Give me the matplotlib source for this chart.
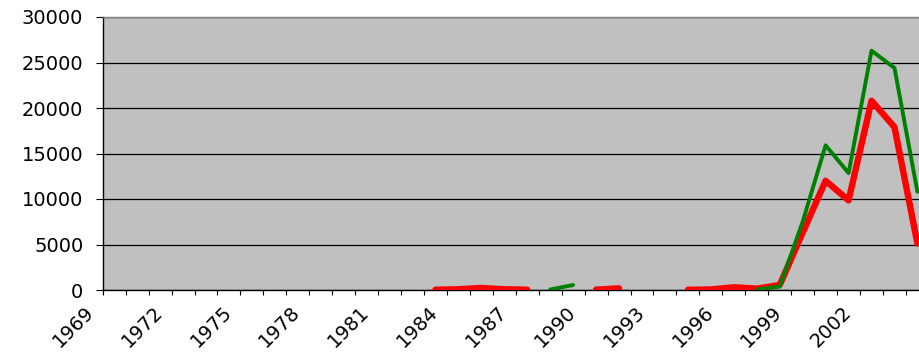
import numpy as np
import matplotlib
matplotlib.use("Agg")
import matplotlib.pyplot as plt
from matplotlib.transforms import ScaledTranslation

# Years on the category axis
years = list(range(1969, 2005))
nan = np.nan

# Red series (thick line), gaps where no data
red = [nan] * 14 + [30, 80, 220, 80, 30,        # 1983-1987
                    nan, nan,                   # 1988-1989
                    40, 180,                    # 1990-1991
                    nan, nan,                   # 1992-1993
                    20, 60, 300, 150, 550,      # 1994-1998
                    6300, 12000, 9850, 20800, 17900, 5100]  # 1999-2004

# Green series (thin line)
green = [nan] * 19 + [50, 550,                  # 1988-1989
                      nan, nan, nan, nan, nan, nan, nan,  # 1990-1996
                      50, 380,                  # 1997-1998
                      7500, 15900, 12850, 26300, 24400, 10800]  # 1999-2004

yticks = [0, 5000, 10000, 15000, 20000, 25000, 30000]
label_years = years[::3]

plt.rcParams['font.family'] = ['DejaVu Sans']

fig = plt.figure(figsize=(9.2, 3.54), dpi=100)
W, H = 920, 354
ax = fig.add_axes([102.7 / W, 64 / H, 826.2 / W, 273 / H])
ax.set_facecolor("#C0C0C0")

x = np.arange(len(years))
ax.plot(x, red, color="#FF0000", lw=4.6, solid_capstyle="round", zorder=3)
ax.plot(x, green, color="#008000", lw=2.8, solid_capstyle="round", zorder=4)

ax.set_xlim(-0.5, len(years) - 0.5)
ax.set_ylim(0, 30000)

# horizontal gridlines
ax.set_yticks(yticks)
ax.set_yticklabels([str(v) for v in yticks], fontsize=14)
ax.yaxis.grid(True, color="black", lw=0.9)
ax.set_axisbelow(True)
ax.tick_params(axis="y", length=5, width=0.8, pad=9, color="black")

# category boundaries as minor ticks, labels every 3rd year
ax.set_xticks(np.arange(-0.5, len(years)), minor=True)
ax.set_xticks([years.index(y) for y in label_years])
ax.set_xticklabels([str(y) for y in label_years], fontsize=14,
                   rotation=45, ha="right", va="top", rotation_mode="anchor")
ax.tick_params(axis="x", which="major", length=0, pad=9)
ax.tick_params(axis="x", which="minor", length=3.6, width=0.8, color="black")
shift = ScaledTranslation(-30 / 100, 0, fig.dpi_scale_trans)
for lab in ax.get_xticklabels():
    lab.set_transform(lab.get_transform() + shift)

for s in ["left", "bottom"]:
    ax.spines[s].set_color("black")
    ax.spines[s].set_linewidth(1.0)
for s in ["top", "right"]:
    ax.spines[s].set_color("#808080")
    ax.spines[s].set_linewidth(1.0)

fig.savefig("out.png", dpi=100)
